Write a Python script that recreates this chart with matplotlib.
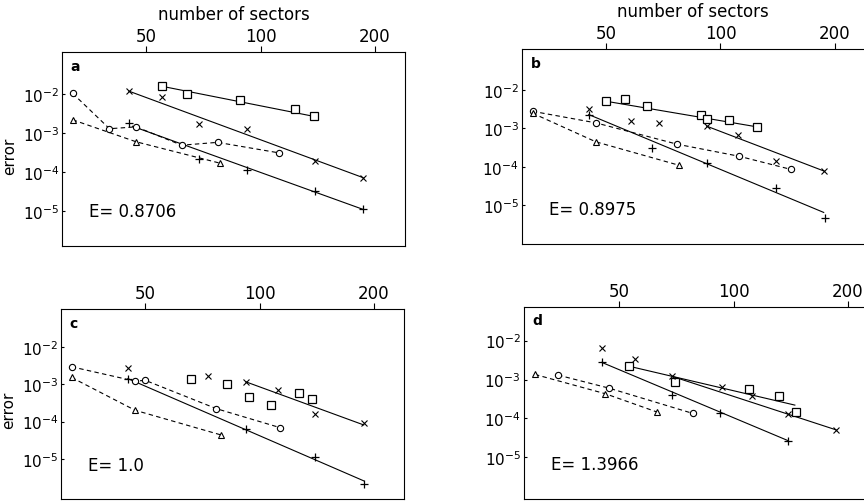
import matplotlib
matplotlib.use("Agg")
import matplotlib.pyplot as plt
from matplotlib.ticker import NullLocator

# panel a
a_sq_x = [55, 64, 88, 123, 138]
a_sq_y = [1.6e-2, 1.0e-2, 7.1e-3, 4.1e-3, 2.7e-3]
a_sq_fit_x = [55, 138]
a_sq_fit_y = [1.6e-2, 2.7e-3]
a_x_x = [45, 55, 69, 92, 139, 186]
a_x_y = [1.2e-2, 8.5e-3, 1.7e-3, 1.3e-3, 1.9e-4, 7.2e-5]
a_x_fit_x = [45, 186]
a_x_fit_y = [1.2e-2, 7.2e-5]
a_pl_x = [45, 69, 92, 139, 186]
a_pl_y = [1.8e-3, 2.2e-4, 1.1e-4, 3.3e-5, 1.1e-5]
a_pl_fit_x = [46, 186]
a_pl_fit_y = [1.5e-3, 1.1e-5]
a_ci_x = [32, 40, 47, 62, 77, 112]
a_ci_y = [1.05e-2, 1.3e-3, 1.45e-3, 4.9e-4, 5.8e-4, 3.1e-4]
a_tr_x = [32, 47, 78]
a_tr_y = [2.2e-3, 6.0e-4, 1.7e-4]

# panel b
b_sq_x = [50, 56, 64, 89, 92, 105, 125]
b_sq_y = [5.1e-3, 5.8e-3, 3.8e-3, 2.3e-3, 1.8e-3, 1.7e-3, 1.1e-3]
b_sq_fit_x = [50, 125]
b_sq_fit_y = [5.1e-3, 1.1e-3]
b_x_x = [45, 58, 69, 92, 111, 140, 187]
b_x_y = [3.2e-3, 1.55e-3, 1.35e-3, 1.15e-3, 6.8e-4, 1.45e-4, 7.9e-5]
b_x_fit_x = [92, 187]
b_x_fit_y = [1.15e-3, 7.9e-5]
b_pl_x = [45, 66, 92, 140, 188]
b_pl_y = [2.3e-3, 3.2e-4, 1.3e-4, 2.8e-5, 4.7e-6]
b_pl_fit_x = [45, 187]
b_pl_fit_y = [2.3e-3, 6.6e-6]
b_ci_x = [32, 47, 77, 112, 153]
b_ci_y = [2.8e-3, 1.4e-3, 3.9e-4, 1.9e-4, 8.7e-5]
b_tr_x = [32, 47, 78]
b_tr_y = [2.5e-3, 4.5e-4, 1.1e-4]

# panel c
c_sq_x = [66, 82, 94, 107, 127, 137]
c_sq_y = [1.35e-3, 1.0e-3, 4.6e-4, 2.8e-4, 5.9e-4, 3.9e-4]
c_x_x = [45, 73, 92, 112, 140, 188]
c_x_y = [2.75e-3, 1.6e-3, 1.15e-3, 6.9e-4, 1.55e-4, 8.9e-5]
c_x_fit_x = [92, 188]
c_x_fit_y = [1.15e-3, 8.1e-5]
c_pl_x = [45, 92, 140, 188]
c_pl_y = [1.4e-3, 6.2e-5, 1.1e-5, 2.2e-6]
c_pl_fit_x = [45, 188]
c_pl_fit_y = [1.4e-3, 2.6e-6]
c_ci_x = [32, 47, 50, 77, 113]
c_ci_y = [2.9e-3, 1.2e-3, 1.26e-3, 2.2e-4, 6.9e-5]
c_tr_x = [32, 47, 79]
c_tr_y = [1.5e-3, 2.0e-4, 4.4e-5]

# panel d
d_sq_x = [53, 70, 110, 132, 146]
d_sq_y = [2.2e-3, 8.5e-4, 5.8e-4, 3.7e-4, 1.45e-4]
d_sq_fit_x = [53, 145]
d_sq_fit_y = [2.2e-3, 2.2e-4]
d_x_x = [45, 55, 69, 93, 112, 139, 186]
d_x_y = [6.3e-3, 3.4e-3, 1.2e-3, 6.6e-4, 3.7e-4, 1.3e-4, 5.1e-5]
d_x_fit_x = [69, 186]
d_x_fit_y = [1.2e-3, 5.1e-5]
d_pl_x = [45, 69, 92, 139]
d_pl_y = [2.75e-3, 4.0e-4, 1.35e-4, 2.7e-5]
d_pl_fit_x = [45, 139]
d_pl_fit_y = [2.75e-3, 2.7e-5]
d_ci_x = [34.5, 47, 78]
d_ci_y = [1.3e-3, 6.0e-4, 1.35e-4]
d_tr_x = [30, 46, 63]
d_tr_y = [1.35e-3, 4.3e-4, 1.45e-4]

x_ticks = [50, 100, 200]
x_ticklabels = ["50", "100", "200"]
y_ticks = [1e-2, 1e-3, 1e-4, 1e-5]
y_ticklabels = ["$10^{-2}$", "$10^{-3}$", "$10^{-4}$", "$10^{-5}$"]
e_labels = ["E= 0.8706", "E= 0.8975", "E= 1.0", "E= 1.3966"]
panel_letters = ["a", "b", "c", "d"]

plt.rcParams["font.family"] = "DejaVu Sans"
plt.rcParams["mathtext.default"] = "regular"

fig = plt.figure(figsize=(8.64, 5.02), dpi=100)

positions = [
    [0.0718, 0.508, 0.397, 0.386],
    [0.604, 0.512, 0.397, 0.388],
    [0.0706, 0.004, 0.397, 0.378],
    [0.606, 0.004, 0.397, 0.383],
]
xlims = [(30, 240), (30, 240), (30, 240), (28, 224)]
ylims = [(10**-5.9, 10**-0.92), (10**-6.0, 10**-0.94),
         (10**-6.07, 10**-1.0), (10**-6.07, 10**-1.13)]

panels = [
    dict(sq=(a_sq_x, a_sq_y), sq_fit=(a_sq_fit_x, a_sq_fit_y),
         xx=(a_x_x, a_x_y), xx_fit=(a_x_fit_x, a_x_fit_y),
         pl=(a_pl_x, a_pl_y), pl_fit=(a_pl_fit_x, a_pl_fit_y),
         ci=(a_ci_x, a_ci_y), tr=(a_tr_x, a_tr_y)),
    dict(sq=(b_sq_x, b_sq_y), sq_fit=(b_sq_fit_x, b_sq_fit_y),
         xx=(b_x_x, b_x_y), xx_fit=(b_x_fit_x, b_x_fit_y),
         pl=(b_pl_x, b_pl_y), pl_fit=(b_pl_fit_x, b_pl_fit_y),
         ci=(b_ci_x, b_ci_y), tr=(b_tr_x, b_tr_y)),
    dict(sq=(c_sq_x, c_sq_y), sq_fit=None,
         xx=(c_x_x, c_x_y), xx_fit=(c_x_fit_x, c_x_fit_y),
         pl=(c_pl_x, c_pl_y), pl_fit=(c_pl_fit_x, c_pl_fit_y),
         ci=(c_ci_x, c_ci_y), tr=(c_tr_x, c_tr_y)),
    dict(sq=(d_sq_x, d_sq_y), sq_fit=(d_sq_fit_x, d_sq_fit_y),
         xx=(d_x_x, d_x_y), xx_fit=(d_x_fit_x, d_x_fit_y),
         pl=(d_pl_x, d_pl_y), pl_fit=(d_pl_fit_x, d_pl_fit_y),
         ci=(d_ci_x, d_ci_y), tr=(d_tr_x, d_tr_y)),
]

lw = 0.8
for i, p in enumerate(panels):
    ax = fig.add_axes(positions[i])
    ax.set_xscale("log")
    ax.set_yscale("log")
    ax.set_xlim(*xlims[i])
    ax.set_ylim(*ylims[i])

    # solid fit lines
    for key in ["sq_fit", "xx_fit", "pl_fit"]:
        if p[key] is not None:
            ax.plot(p[key][0], p[key][1], color="black", lw=lw)
    # dashed connecting lines
    ax.plot(p["ci"][0], p["ci"][1], color="black", lw=lw, ls=(0, (4, 3)),
            marker="o", mfc="white", mec="black", ms=4.5, mew=0.8)
    ax.plot(p["tr"][0], p["tr"][1], color="black", lw=lw, ls=(0, (4, 3)),
            marker="^", mfc="white", mec="black", ms=4, mew=0.8)
    # markers
    ax.plot(p["sq"][0], p["sq"][1], ls="none", marker="s", mfc="white",
            mec="black", ms=6, mew=0.9)
    ax.plot(p["xx"][0], p["xx"][1], ls="none", marker="x", color="black",
            ms=5, mew=0.8)
    ax.plot(p["pl"][0], p["pl"][1], ls="none", marker="+", color="black",
            ms=6, mew=0.9)

    ax.xaxis.set_ticks_position("top")
    ax.xaxis.set_label_position("top")
    ax.set_xticks(x_ticks)
    ax.set_xticklabels(x_ticklabels, fontsize=12)
    ax.xaxis.set_minor_locator(NullLocator())
    ax.tick_params(axis="x", direction="out", length=4, width=0.8, pad=1)
    ax.set_yticks(y_ticks)
    ax.set_yticklabels(y_ticklabels, fontsize=11)
    ax.yaxis.set_minor_locator(NullLocator())
    ax.tick_params(axis="y", direction="in", length=2, width=0.8, pad=2)
    for s in ax.spines.values():
        s.set_linewidth(0.8)

    ax.text(0.025, 0.93, panel_letters[i], transform=ax.transAxes,
            fontsize=10, fontweight="bold", va="center")
    ax.text(0.08, 0.18, e_labels[i], transform=ax.transAxes,
            fontsize=12, va="center")
    if i < 2:
        ax.set_xlabel("number of sectors", fontsize=12, labelpad=6)
    if i in (0, 2):
        ax.set_ylabel("error", fontsize=11)
        ax.yaxis.set_label_coords(-0.13, 0.47)

fig.savefig("out.png", dpi=100)
